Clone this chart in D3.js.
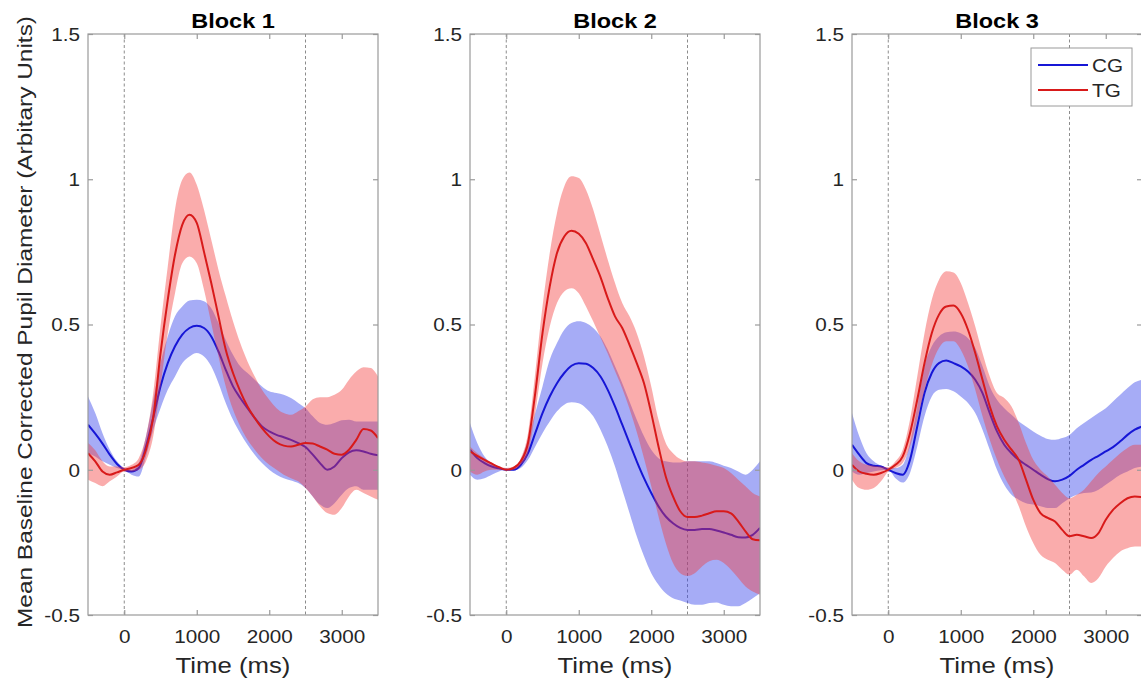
<!DOCTYPE html>
<html><head><meta charset="utf-8">
<script src="https://cdn.jsdelivr.net/npm/d3@7"></script>
<style>
body{margin:0;background:#fff}
svg{display:block}
text{font-family:"Liberation Sans",Arial,Helvetica,sans-serif}
</style>
</head><body>
<svg id="chart" width="1141" height="683"></svg>
<script>
// ---------- data ----------
const times = [-500,-400,-300,-200,-100,0,100,200,300,400,500,600,700,800,900,1000,1100,1200,1300,1400,1500,1600,1700,1800,1900,2000,2100,2200,2300,2400,2500,2600,2700,2800,2900,3000,3100,3200,3300,3400,3500];
const blockTitles = ["Block 1","Block 2","Block 3"];
const seriesNames = ["CG","TG"];
const xTicks = [0,1000,2000,3000];
const xTickLabels = ["0","1000","2000","3000"];
const yTicks = [-0.5,0,0.5,1,1.5];
const yTickLabels = ["-0.5","0","0.5","1","1.5"];
const markerTimes = [0,2500];
const xLabel = "Time (ms)";
const yLabel = "Mean Baseline Corrected Pupil Diameter (Arbitary Units)";

// Block 1
const cg1Mean = [0.155,0.124,0.09,0.052,0.02,0,-0.006,0.006,0.08,0.18,0.287,0.367,0.425,0.465,0.488,0.496,0.488,0.459,0.407,0.344,0.287,0.247,0.212,0.178,0.149,0.132,0.12,0.112,0.103,0.092,0.078,0.052,0.023,0,0.011,0.04,0.06,0.067,0.063,0.055,0.05];
const cg1Hi = [0.252,0.195,0.126,0.069,0.029,0.006,0,0.023,0.115,0.241,0.367,0.459,0.528,0.562,0.583,0.585,0.58,0.556,0.505,0.447,0.396,0.356,0.333,0.31,0.287,0.27,0.264,0.258,0.247,0.23,0.212,0.184,0.161,0.155,0.161,0.17,0.172,0.166,0.166,0.166,0.166];
const cg1Lo = [0.057,0.046,0.029,0.017,0.006,0,-0.017,-0.023,0.046,0.138,0.212,0.275,0.321,0.367,0.39,0.402,0.39,0.356,0.298,0.23,0.172,0.126,0.086,0.052,0.023,0,-0.017,-0.029,-0.037,-0.046,-0.063,-0.092,-0.12,-0.132,-0.115,-0.086,-0.063,-0.057,-0.069,-0.069,-0.069];
const tg1Mean = [0.057,0.029,-0.006,-0.017,-0.009,0,0.006,0.017,0.069,0.18,0.40,0.585,0.74,0.843,0.878,0.85,0.75,0.643,0.528,0.413,0.333,0.27,0.218,0.178,0.143,0.115,0.094,0.083,0.08,0.086,0.092,0.09,0.08,0.069,0.055,0.052,0.069,0.103,0.14,0.135,0.109];
const tg1Hi = [0.092,0.067,0.029,0.011,0.011,0.009,0.017,0.04,0.115,0.264,0.493,0.70,0.895,0.998,1.023,0.981,0.895,0.792,0.688,0.597,0.511,0.436,0.373,0.321,0.275,0.241,0.212,0.195,0.189,0.201,0.218,0.243,0.25,0.25,0.258,0.275,0.31,0.338,0.353,0.35,0.321];
const tg1Lo = [-0.034,-0.046,-0.057,-0.04,-0.023,-0.006,-0.006,0,0.029,0.115,0.287,0.47,0.608,0.711,0.734,0.711,0.62,0.505,0.39,0.287,0.207,0.149,0.103,0.069,0.04,0.017,0,-0.017,-0.029,-0.04,-0.063,-0.092,-0.126,-0.149,-0.155,-0.132,-0.092,-0.069,-0.08,-0.092,-0.103];

// Block 2
const cg2Mean = [0.069,0.04,0.023,0.011,0.005,0,0,0.017,0.057,0.126,0.195,0.252,0.298,0.333,0.358,0.367,0.365,0.35,0.321,0.275,0.218,0.155,0.092,0.029,-0.029,-0.08,-0.126,-0.161,-0.184,-0.2,-0.207,-0.207,-0.204,-0.204,-0.209,-0.216,-0.224,-0.232,-0.233,-0.224,-0.2];
const cg2Hi = [0.161,0.092,0.046,0.023,0.009,0,0.006,0.034,0.103,0.195,0.287,0.379,0.436,0.482,0.505,0.511,0.505,0.488,0.459,0.413,0.356,0.298,0.235,0.172,0.115,0.069,0.04,0.029,0.025,0.025,0.029,0.029,0.029,0.029,0.023,0.014,0.006,-0.006,-0.017,0,0.029];
const cg2Lo = [-0.017,-0.034,-0.029,-0.017,-0.006,0,-0.002,0.006,0.034,0.08,0.126,0.166,0.201,0.224,0.232,0.229,0.212,0.184,0.138,0.08,0.011,-0.069,-0.149,-0.229,-0.298,-0.356,-0.396,-0.425,-0.442,-0.45,-0.459,-0.465,-0.465,-0.459,-0.457,-0.465,-0.47,-0.47,-0.459,-0.442,-0.425];
const tg2Mean = [0.063,0.048,0.034,0.021,0.009,0,0.006,0.029,0.092,0.264,0.47,0.631,0.746,0.803,0.823,0.812,0.78,0.723,0.663,0.591,0.528,0.488,0.43,0.367,0.298,0.195,0.08,-0.023,-0.092,-0.143,-0.163,-0.163,-0.158,-0.15,-0.143,-0.143,-0.15,-0.178,-0.212,-0.239,-0.243];
const tg2Hi = [0.08,0.057,0.04,0.025,0.011,0.006,0.011,0.04,0.126,0.333,0.562,0.746,0.884,0.975,1.01,1.004,0.964,0.895,0.809,0.723,0.643,0.574,0.528,0.47,0.39,0.287,0.172,0.092,0.057,0.037,0.029,0.029,0.025,0.021,0.014,0.006,-0.011,-0.034,-0.057,-0.08,-0.092];
const tg2Lo = [-0.006,-0.017,-0.006,0,0,0,0,0.017,0.057,0.195,0.367,0.493,0.574,0.614,0.625,0.608,0.562,0.51,0.455,0.40,0.34,0.28,0.21,0.13,0.04,-0.057,-0.161,-0.252,-0.321,-0.356,-0.365,-0.356,-0.333,-0.315,-0.31,-0.321,-0.344,-0.373,-0.402,-0.419,-0.43];

// Block 3
const cg3Mean = [0.086,0.052,0.023,0.014,0.011,0,-0.011,-0.017,0.034,0.149,0.264,0.333,0.367,0.376,0.367,0.356,0.338,0.31,0.264,0.195,0.132,0.086,0.057,0.034,0.017,0,-0.017,-0.032,-0.04,-0.034,-0.021,0,0.017,0.034,0.048,0.063,0.078,0.098,0.12,0.138,0.149];
const cg3Hi = [0.195,0.115,0.057,0.029,0.014,0.006,0.006,0.017,0.092,0.218,0.356,0.425,0.459,0.473,0.476,0.47,0.453,0.419,0.356,0.287,0.241,0.212,0.189,0.166,0.149,0.132,0.117,0.106,0.103,0.109,0.12,0.143,0.161,0.178,0.195,0.212,0.235,0.258,0.281,0.301,0.31];
const cg3Lo = [-0.006,-0.017,-0.011,-0.006,-0.002,0,-0.029,-0.044,-0.011,0.08,0.184,0.252,0.275,0.278,0.27,0.252,0.23,0.195,0.138,0.069,0,-0.052,-0.086,-0.103,-0.115,-0.12,-0.126,-0.132,-0.132,-0.115,-0.098,-0.086,-0.08,-0.078,-0.069,-0.052,-0.034,-0.017,-0.006,0.006,0.011];
const tg3Mean = [0.017,-0.006,-0.014,-0.017,-0.011,0,0.017,0.046,0.126,0.241,0.367,0.47,0.534,0.562,0.565,0.539,0.482,0.402,0.31,0.218,0.149,0.103,0.069,0.034,-0.034,-0.103,-0.149,-0.166,-0.178,-0.207,-0.229,-0.224,-0.229,-0.235,-0.218,-0.172,-0.138,-0.115,-0.098,-0.092,-0.094];
const tg3Hi = [0.057,0.029,0.017,0.014,0.011,0.009,0.029,0.069,0.172,0.321,0.47,0.585,0.654,0.683,0.679,0.643,0.574,0.493,0.402,0.321,0.264,0.247,0.218,0.161,0.092,0.034,0,-0.023,-0.052,-0.08,-0.098,-0.086,-0.069,-0.04,-0.011,0.011,0.034,0.057,0.075,0.086,0.086];
const tg3Lo = [-0.034,-0.063,-0.069,-0.063,-0.04,-0.006,0.006,0.023,0.08,0.172,0.275,0.361,0.419,0.442,0.442,0.413,0.356,0.275,0.184,0.103,0.034,-0.023,-0.069,-0.126,-0.195,-0.252,-0.293,-0.31,-0.321,-0.344,-0.361,-0.344,-0.367,-0.39,-0.373,-0.333,-0.304,-0.281,-0.27,-0.264,-0.264];

// ---------- assemble ----------
const blocks = [
  {title: blockTitles[0], series: [{mean: cg1Mean, lo: cg1Lo, hi: cg1Hi}, {mean: tg1Mean, lo: tg1Lo, hi: tg1Hi}]},
  {title: blockTitles[1], series: [{mean: cg2Mean, lo: cg2Lo, hi: cg2Hi}, {mean: tg2Mean, lo: tg2Lo, hi: tg2Hi}]},
  {title: blockTitles[2], series: [{mean: cg3Mean, lo: cg3Lo, hi: cg3Hi}, {mean: tg3Mean, lo: tg3Lo, hi: tg3Hi}]}
];
const lineColors = ["#1616d6", "#d81a1a"];
const fillColors = ["#3a46ea", "#f23a3a"];
const fillOpacity = [0.45, 0.42];

// ---------- layout ----------
const W = 1141, H = 683;
const firstLeft = 88, panelStep = 382, panelW = 290, panelTop = 34, panelH = 581;
const axisColor = "#9a9a9a", labelColor = "#262626";
const tickFont = 18, stretch = 1.15;

const svg = d3.select("#chart").attr("width", W).attr("height", H);

const x = d3.scaleLinear().domain([-500, 3500]).range([0, panelW]);
const y = d3.scaleLinear().domain([-0.5, 1.5]).range([panelH, 0]);

blocks.forEach((blk, i) => {
  const left = firstLeft + i * panelStep;
  const g = svg.append("g").attr("transform", `translate(${left},${panelTop})`);
  const clipId = "clip" + i;
  g.append("clipPath").attr("id", clipId).append("rect")
    .attr("width", panelW).attr("height", panelH);

  const plot = g.append("g").attr("clip-path", `url(#${clipId})`);

  // dashed markers
  plot.selectAll("line.marker").data(markerTimes).join("line")
    .attr("class", "marker")
    .attr("x1", d => x(d)).attr("x2", d => x(d))
    .attr("y1", 0).attr("y2", panelH)
    .attr("stroke", "#8c8c8c").attr("stroke-width", 1)
    .attr("stroke-dasharray", "3,2.5");

  blk.series.forEach((s, k) => {
    const rows = times.map((t, j) => ({t, m: s.mean[j], lo: s.lo[j], hi: s.hi[j]}));
    const area = d3.area().x(d => x(d.t)).y0(d => y(d.lo)).y1(d => y(d.hi)).curve(d3.curveMonotoneX);
    const line = d3.line().x(d => x(d.t)).y(d => y(d.m)).curve(d3.curveMonotoneX);
    plot.append("path").datum(rows).attr("d", area)
      .attr("fill", fillColors[k]).attr("fill-opacity", fillOpacity[k]).attr("stroke", "none");
    plot.append("path").datum(rows).attr("d", line)
      .attr("fill", "none").attr("stroke", lineColors[k]).attr("stroke-width", 2)
      .attr("stroke-linejoin", "round");
  });

  // box
  g.append("rect").attr("width", panelW).attr("height", panelH)
    .attr("fill", "none").attr("stroke", axisColor).attr("stroke-width", 1.2);

  // axes
  const xb = g.append("g").attr("transform", `translate(0,${panelH})`)
    .call(d3.axisBottom(x).tickValues(xTicks).tickFormat((d, j) => xTickLabels[j]).tickSizeInner(-5).tickSizeOuter(0));
  const xt = g.append("g")
    .call(d3.axisTop(x).tickValues(xTicks).tickFormat("").tickSizeInner(-5).tickSizeOuter(0));
  const yl = g.append("g")
    .call(d3.axisLeft(y).tickValues(yTicks).tickFormat((d, j) => yTickLabels[j]).tickSizeInner(-5).tickSizeOuter(0));
  const yr = g.append("g").attr("transform", `translate(${panelW},0)`)
    .call(d3.axisRight(y).tickValues(yTicks).tickFormat("").tickSizeInner(-5).tickSizeOuter(0));
  [xb, xt, yl, yr].forEach(a => {
    a.select(".domain").remove();
    a.selectAll(".tick line").attr("stroke", axisColor).attr("stroke-width", 1.2);
  });
  xb.selectAll(".tick text")
    .attr("y", 28).attr("dy", null)
    .attr("transform", `scale(${stretch},1)`)
    .attr("font-size", tickFont).attr("fill", labelColor).attr("font-family", null);
  yl.selectAll(".tick text")
    .attr("x", -7).attr("dy", "0.35em")
    .attr("transform", `scale(${stretch},1)`)
    .attr("font-size", tickFont).attr("fill", labelColor).attr("font-family", null);

  // title
  g.append("text").text(blk.title)
    .attr("transform", `translate(${panelW / 2},-6) scale(1.12,1)`)
    .attr("text-anchor", "middle").attr("font-weight", "bold")
    .attr("font-size", 21).attr("fill", "#000");

  // x label
  g.append("text").text(xLabel)
    .attr("transform", `translate(${panelW / 2},${panelH + 58}) scale(1.17,1)`)
    .attr("text-anchor", "middle")
    .attr("font-size", 22).attr("fill", labelColor);

  // legend in last panel
  if (i === blocks.length - 1) {
    const lg = g.append("g").attr("transform", "translate(179,14)");
    lg.append("rect").attr("width", 101).attr("height", 58)
      .attr("fill", "#fff").attr("stroke", axisColor).attr("stroke-width", 1);
    seriesNames.forEach((name, k) => {
      const yy = 17 + k * 25;
      lg.append("line").attr("x1", 7).attr("x2", 57).attr("y1", yy).attr("y2", yy)
        .attr("stroke", lineColors[k]).attr("stroke-width", 2);
      lg.append("text").text(name)
        .attr("transform", `translate(61,${yy + 7}) scale(${stretch},1)`)
        .attr("font-size", tickFont).attr("fill", labelColor);
    });
  }
});

// y label
svg.append("text").text(yLabel)
  .attr("transform", "translate(32,322) rotate(-90)")
  .attr("text-anchor", "middle")
  .attr("font-size", 21).attr("fill", labelColor)
  .attr("textLength", 612).attr("lengthAdjust", "spacingAndGlyphs");
</script>
</body></html>
